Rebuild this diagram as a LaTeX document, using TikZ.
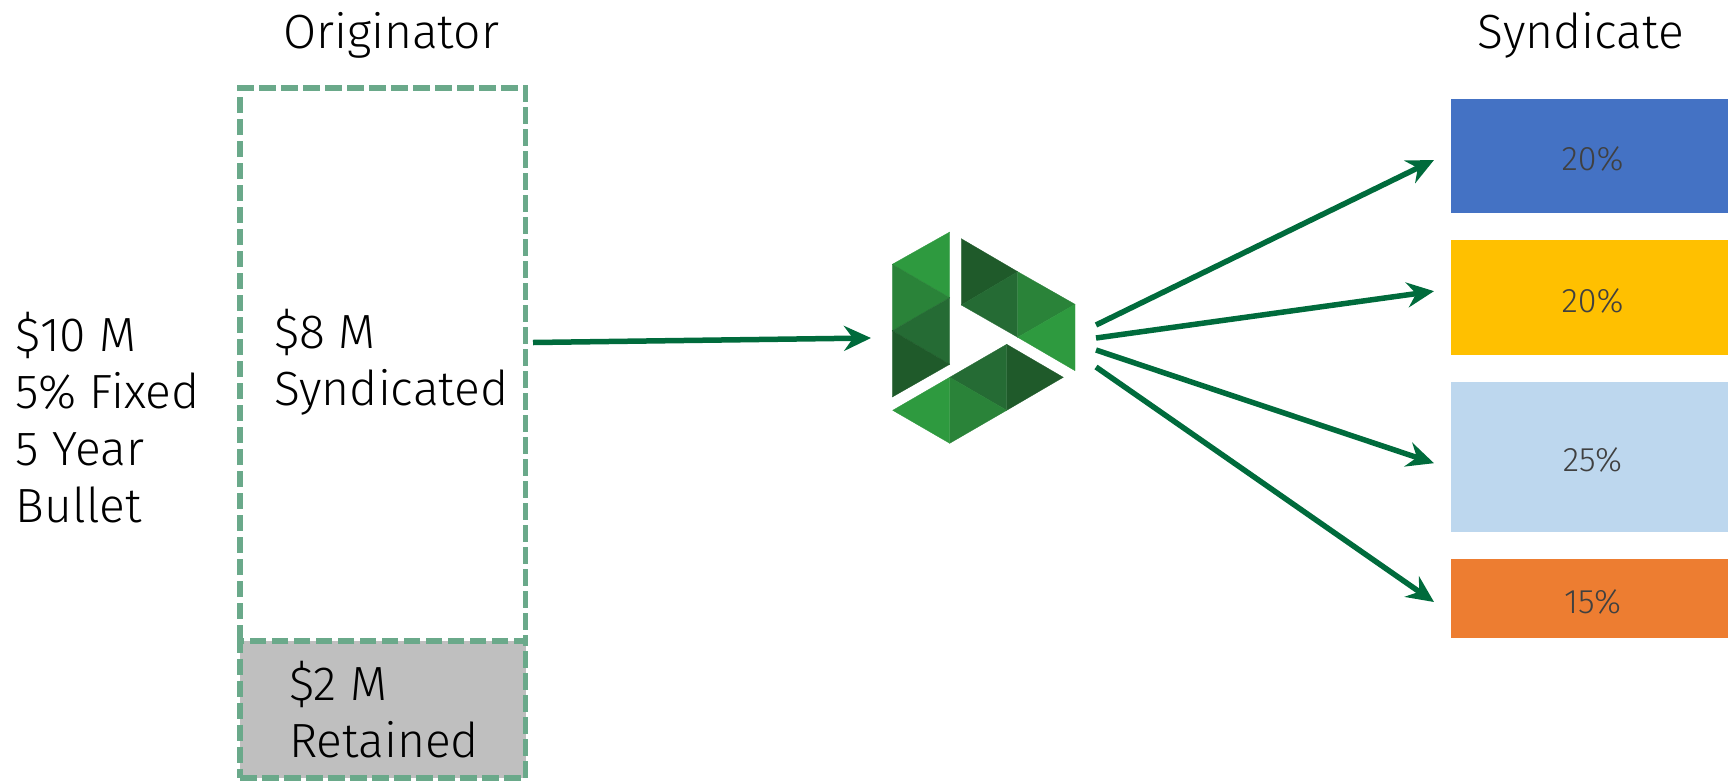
\documentclass[tikz,border=0pt]{standalone}
\usepackage{fontspec}
\setmainfont{Fira Sans Light}
\usetikzlibrary{arrows.meta,calc}
\definecolor{dashgreen}{HTML}{6AA98A}
\definecolor{arrowgreen}{HTML}{006B3C}
\definecolor{boxgray}{HTML}{BFBFBF}
\definecolor{sblue}{HTML}{4472C4}
\definecolor{syellow}{HTML}{FFC000}
\definecolor{slight}{HTML}{BDD7EE}
\definecolor{sorange}{HTML}{ED7D31}
\definecolor{labelgray}{HTML}{404040}
\definecolor{lgA}{HTML}{2E9A3F}
\definecolor{lgB}{HTML}{2A8339}
\definecolor{lgC}{HTML}{256B34}
\definecolor{lgD}{HTML}{1F5A2A}
\tikzset{
  x=1pt,y=-1pt,
  dashline/.style={draw=dashgreen,line width=5.5pt,dash pattern=on 16.5pt off 5.5pt},
  dashbox/.style={dashline,rectangle,inner sep=0pt,outer sep=0pt,anchor=north west},
  plainbox/.style={rectangle,inner sep=0pt,outer sep=0pt,anchor=north west},
  bigtext/.style={font=\fontsize{48}{57}\selectfont,text=black,inner sep=0pt,outer sep=0pt,align=left,anchor=north west},
  titletext/.style={font=\fontsize{48}{57}\selectfont,text=black,inner sep=0pt,anchor=base},
  synbox/.style={rectangle,inner sep=0pt,outer sep=0pt,anchor=north west,minimum width=283.6pt,text height=29pt,text depth=0pt,text=labelgray,font=\fontsize{34}{40}\selectfont},
  flow/.style={draw=arrowgreen,line width=5.5pt,-{Stealth[length=27pt,width=25pt,inset=9pt]}},
}
\newcommand{\tri}[4]{\filldraw[#1,line width=0.3pt] ($(860,210)+#2$) -- ($(860,210)+#3$) -- ($(860,210)+#4$) -- cycle;}
\begin{document}
\begin{tikzpicture}
\useasboundingbox (0,0) rectangle (1728,780);
% originator
\node[plainbox,minimum width=285.7pt,minimum height=553pt] (orig) at (240,88) {};
\draw[dashline] (orig.south west) -- (orig.north west) -- (orig.north east) -- (orig.south east);
\node[dashbox,fill=boxgray,minimum width=285.7pt,minimum height=137pt] (ret) at (240,641) {};
\node[titletext] (otitle) at (391,48) {Originator};
\node[titletext] (stitle) at (1581,48) {Syndicate};
\node[bigtext] (terms) at (16,312) {\$10 M\\5\% Fixed\\5 Year\\Bullet};
\node[bigtext] (syn) at (274,309.5) {\$8 M\\Syndicated};
\node[bigtext] (retl) at (289,661) {\$2 M\\Retained};
% syndicate
\node[synbox,fill=sblue,minimum height=114pt] (s1) at (1450.7,99) {20\%};
\node[synbox,fill=syellow,minimum height=114.7pt] (s2) at (1450.7,240.3) {20\%};
\node[synbox,fill=slight,minimum height=149.6pt] (s3) at (1450.7,382.4) {25\%};
\node[synbox,fill=sorange,minimum height=79pt] (s4) at (1450.7,559) {15\%};
% logo
\tri{lgA}{(32.3,54.3)}{(89.7,22)}{(89.7,87.7)}
\tri{lgB}{(32.3,54.3)}{(89.7,87.7)}{(32.3,120.7)}
\tri{lgC}{(32.3,120.7)}{(89.7,87.7)}{(89.7,154.3)}
\tri{lgD}{(32.3,120.7)}{(89.7,154.3)}{(32.3,187)}
\tri{lgD}{(101.3,28.7)}{(157.7,61.7)}{(101.3,95)}
\tri{lgC}{(101.3,95)}{(157.7,61.7)}{(157.7,127.3)}
\tri{lgB}{(157.7,61.7)}{(215,94.3)}{(157.7,127.3)}
\tri{lgA}{(157.7,127.3)}{(215,94.3)}{(215,160.7)}
\tri{lgD}{(146.7,134.3)}{(203.3,167.3)}{(146.7,200.3)}
\tri{lgC}{(89.7,167.3)}{(146.7,134.3)}{(146.7,200.3)}
\tri{lgB}{(89.7,167.3)}{(146.7,200.3)}{(89.7,233.3)}
\tri{lgA}{(32.7,200.3)}{(89.7,167.3)}{(89.7,233.3)}
\node[inner sep=0pt,outer sep=0pt,minimum width=225pt,minimum height=100pt] (logo) at (983.5,340) {};
% connectors
\draw[flow] ([shift={(7.3,-22)}]orig.east) -- ([shift={(0,-2)}]logo.west);
\draw[flow] ([shift={(0,-15)}]logo.east) -- ([shift={(-16.7,4)}]s1.west);
\draw[flow] ([shift={(0,-2)}]logo.east) -- ([shift={(-16.7,-6.5)}]s2.west);
\draw[flow] ([shift={(0,10)}]logo.east) -- ([shift={(-16.7,6)}]s3.west);
\draw[flow] ([shift={(0,27)}]logo.east) -- ([shift={(-16.7,3.5)}]s4.west);
\end{tikzpicture}
\end{document}
